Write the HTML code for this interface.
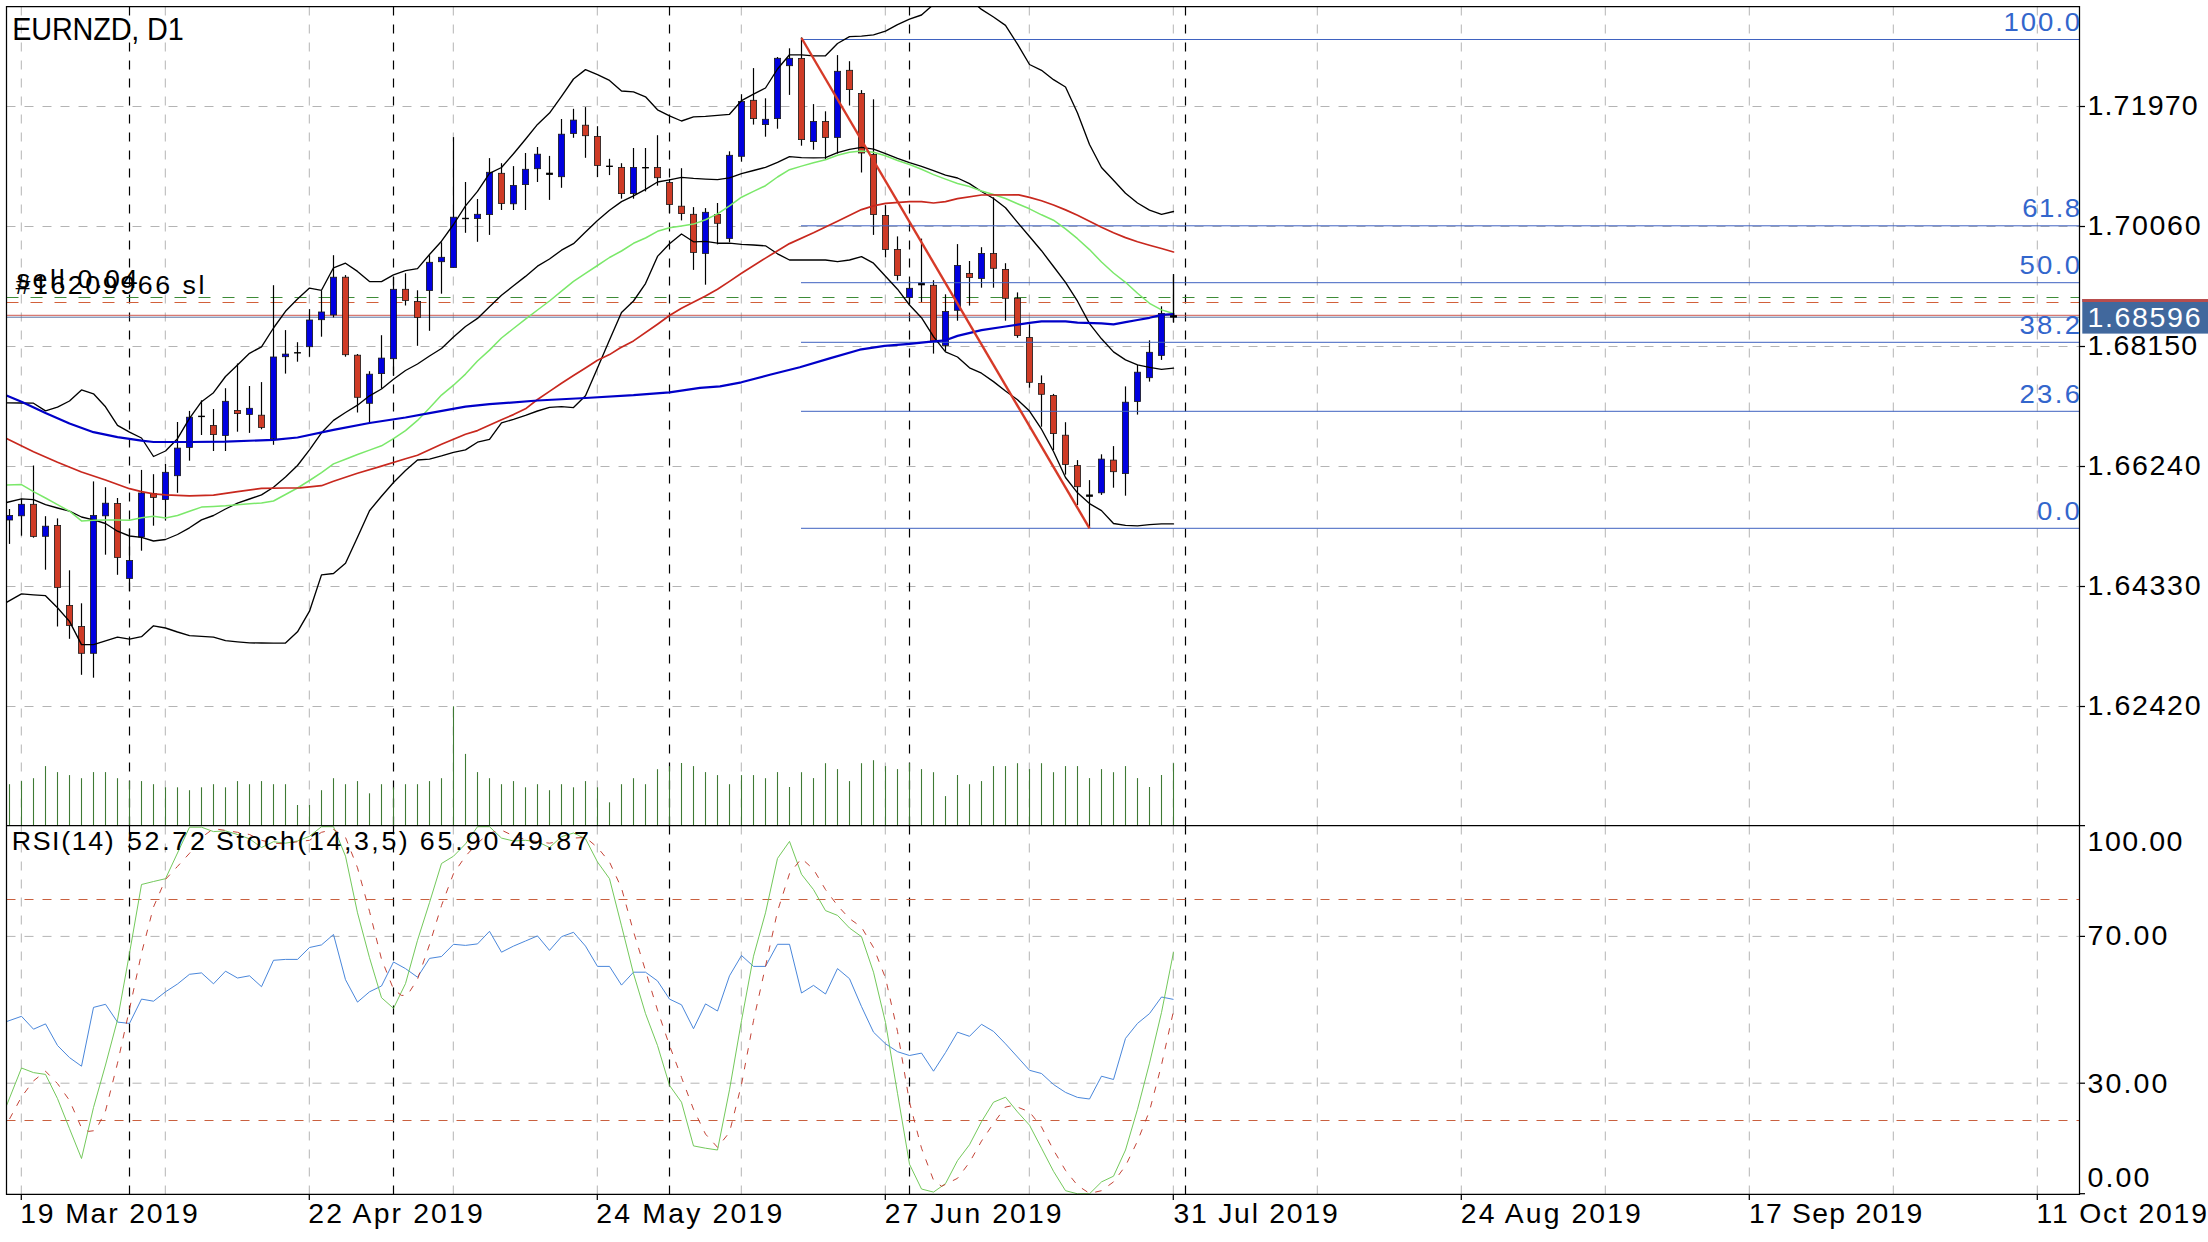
<!DOCTYPE html>
<html lang="en"><head><meta charset="utf-8"><title>EURNZD, D1</title><style>html,body{margin:0;padding:0;background:#fff;overflow:hidden}svg{display:block}</style></head><body>
<svg width="2208" height="1242" viewBox="0 0 2208 1242" font-family="'Liberation Sans', Arial, Helvetica, sans-serif">
<defs><clipPath id="cm"><rect x="6.5" y="6.5" width="2073" height="819"/></clipPath><clipPath id="ci"><rect x="6.5" y="825.5" width="2073" height="368.7"/></clipPath></defs>
<rect width="2208" height="1242" fill="#fff"/>
<g stroke="#b4b4b4" stroke-width="1" stroke-dasharray="9 9" fill="none">
<path d="M6.5 106.5H2079.5"/>
<path d="M6.5 226.5H2079.5"/>
<path d="M6.5 346.5H2079.5"/>
<path d="M6.5 466.5H2079.5"/>
<path d="M6.5 586.5H2079.5"/>
<path d="M6.5 706.5H2079.5"/>
<path d="M6.5 936.4H2079.5"/>
<path d="M6.5 1083.2H2079.5"/>
<path d="M21.3 6.5V825.5"/><path d="M21.3 825.5V1194.3"/>
<path d="M165.3 6.5V825.5"/><path d="M165.3 825.5V1194.3"/>
<path d="M309.3 6.5V825.5"/><path d="M309.3 825.5V1194.3"/>
<path d="M453.3 6.5V825.5"/><path d="M453.3 825.5V1194.3"/>
<path d="M597.3 6.5V825.5"/><path d="M597.3 825.5V1194.3"/>
<path d="M741.3 6.5V825.5"/><path d="M741.3 825.5V1194.3"/>
<path d="M885.3 6.5V825.5"/><path d="M885.3 825.5V1194.3"/>
<path d="M1029.3 6.5V825.5"/><path d="M1029.3 825.5V1194.3"/>
<path d="M1173.3 6.5V825.5"/><path d="M1173.3 825.5V1194.3"/>
<path d="M1317.3 6.5V825.5"/><path d="M1317.3 825.5V1194.3"/>
<path d="M1461.3 6.5V825.5"/><path d="M1461.3 825.5V1194.3"/>
<path d="M1605.3 6.5V825.5"/><path d="M1605.3 825.5V1194.3"/>
<path d="M1749.3 6.5V825.5"/><path d="M1749.3 825.5V1194.3"/>
<path d="M1893.3 6.5V825.5"/><path d="M1893.3 825.5V1194.3"/>
<path d="M2037.3 6.5V825.5"/><path d="M2037.3 825.5V1194.3"/>
</g>
<g stroke="#000" stroke-width="1.2" stroke-dasharray="9 9" fill="none">
<path d="M129.5 6.5V825.5"/><path d="M129.5 825.5V1194.3"/>
<path d="M393.5 6.5V825.5"/><path d="M393.5 825.5V1194.3"/>
<path d="M669.5 6.5V825.5"/><path d="M669.5 825.5V1194.3"/>
<path d="M909.5 6.5V825.5"/><path d="M909.5 825.5V1194.3"/>
<path d="M1185.5 6.5V825.5"/><path d="M1185.5 825.5V1194.3"/>
</g>
<g stroke="#3f7a35" stroke-width="1.1" fill="none">
<path d="M9.5 784.2V825.5"/>
<path d="M21.5 781.1V825.5"/>
<path d="M33.5 778.2V825.5"/>
<path d="M45.5 766.1V825.5"/>
<path d="M57.5 772.1V825.5"/>
<path d="M69.5 775.1V825.5"/>
<path d="M81.5 778.2V825.5"/>
<path d="M93.5 772.1V825.5"/>
<path d="M105.5 772.1V825.5"/>
<path d="M117.5 778.2V825.5"/>
<path d="M129.5 781.1V825.5"/>
<path d="M141.5 781.1V825.5"/>
<path d="M153.5 784.2V825.5"/>
<path d="M165.5 787.3V825.5"/>
<path d="M177.5 787.3V825.5"/>
<path d="M189.5 790.2V825.5"/>
<path d="M201.5 787.3V825.5"/>
<path d="M213.5 784.2V825.5"/>
<path d="M225.5 787.3V825.5"/>
<path d="M237.5 781.1V825.5"/>
<path d="M249.5 784.2V825.5"/>
<path d="M261.5 781.1V825.5"/>
<path d="M273.5 784.2V825.5"/>
<path d="M285.5 784.2V825.5"/>
<path d="M297.5 805.0V825.5"/>
<path d="M309.5 805.0V825.5"/>
<path d="M321.5 790.2V825.5"/>
<path d="M333.5 778.2V825.5"/>
<path d="M345.5 784.2V825.5"/>
<path d="M357.5 781.1V825.5"/>
<path d="M369.5 793.3V825.5"/>
<path d="M381.5 784.2V825.5"/>
<path d="M393.5 787.3V825.5"/>
<path d="M405.5 784.2V825.5"/>
<path d="M417.5 784.2V825.5"/>
<path d="M429.5 781.1V825.5"/>
<path d="M441.5 778.2V825.5"/>
<path d="M453.5 706.3V825.5"/>
<path d="M465.5 753.9V825.5"/>
<path d="M477.5 772.1V825.5"/>
<path d="M489.5 778.2V825.5"/>
<path d="M501.5 784.2V825.5"/>
<path d="M513.5 781.1V825.5"/>
<path d="M525.5 787.3V825.5"/>
<path d="M537.5 784.2V825.5"/>
<path d="M549.5 790.2V825.5"/>
<path d="M561.5 784.2V825.5"/>
<path d="M573.5 787.3V825.5"/>
<path d="M585.5 781.1V825.5"/>
<path d="M597.5 787.3V825.5"/>
<path d="M609.5 802.3V825.5"/>
<path d="M621.5 784.2V825.5"/>
<path d="M633.5 778.2V825.5"/>
<path d="M645.5 784.2V825.5"/>
<path d="M657.5 769.2V825.5"/>
<path d="M669.5 766.1V825.5"/>
<path d="M681.5 763.0V825.5"/>
<path d="M693.5 766.1V825.5"/>
<path d="M705.5 772.1V825.5"/>
<path d="M717.5 775.1V825.5"/>
<path d="M729.5 784.2V825.5"/>
<path d="M741.5 775.1V825.5"/>
<path d="M753.5 775.1V825.5"/>
<path d="M765.5 778.2V825.5"/>
<path d="M777.5 772.1V825.5"/>
<path d="M789.5 787.0V825.5"/>
<path d="M801.5 772.2V825.5"/>
<path d="M813.5 778.1V825.5"/>
<path d="M825.5 763.2V825.5"/>
<path d="M837.5 769.1V825.5"/>
<path d="M849.5 781.1V825.5"/>
<path d="M861.5 763.2V825.5"/>
<path d="M873.5 760.2V825.5"/>
<path d="M885.5 766.1V825.5"/>
<path d="M897.5 769.1V825.5"/>
<path d="M909.5 763.2V825.5"/>
<path d="M921.5 769.1V825.5"/>
<path d="M933.5 772.2V825.5"/>
<path d="M945.5 796.1V825.5"/>
<path d="M957.5 775.0V825.5"/>
<path d="M969.5 784.2V825.5"/>
<path d="M981.5 781.1V825.5"/>
<path d="M993.5 766.1V825.5"/>
<path d="M1005.5 766.1V825.5"/>
<path d="M1017.5 763.2V825.5"/>
<path d="M1029.5 769.1V825.5"/>
<path d="M1041.5 763.2V825.5"/>
<path d="M1053.5 772.2V825.5"/>
<path d="M1065.5 766.1V825.5"/>
<path d="M1077.5 766.1V825.5"/>
<path d="M1089.5 778.1V825.5"/>
<path d="M1101.5 769.1V825.5"/>
<path d="M1113.5 772.2V825.5"/>
<path d="M1125.5 766.1V825.5"/>
<path d="M1137.5 778.1V825.5"/>
<path d="M1149.5 787.0V825.5"/>
<path d="M1161.5 775.0V825.5"/>
<path d="M1173.5 763.2V825.5"/>
</g>
<path d="M6.5 297.5H2079.5" stroke="#3d8b37" stroke-width="1" stroke-dasharray="12 12" fill="none"/>
<path d="M6.5 302.5H2079.5" stroke="#d2603a" stroke-width="1" stroke-dasharray="12 12" fill="none"/>
<path d="M6.5 315.3H2079.5" stroke="#c8463c" stroke-width="0.9" fill="none"/>
<path d="M6.5 317.2H2079.5" stroke="#44639a" stroke-width="0.9" fill="none"/>
<g stroke="#000" stroke-width="1.2">
<path d="M9.5 509.0V543.9"/>
<path d="M21.5 499.0V535.7"/>
<path d="M33.5 465.5V537.7"/>
<path d="M45.5 516.2V569.7"/>
<path d="M57.5 518.4V626.5"/>
<path d="M69.5 570.3V638.8"/>
<path d="M81.5 603.3V674.8"/>
<path d="M93.5 481.4V677.7"/>
<path d="M105.5 487.2V554.7"/>
<path d="M117.5 498.0V574.8"/>
<path d="M129.5 528.7V591.0"/>
<path d="M141.5 469.9V550.7"/>
<path d="M153.5 474.2V525.7"/>
<path d="M165.5 464.0V520.6"/>
<path d="M177.5 422.0V492.8"/>
<path d="M189.5 410.9V460.7"/>
<path d="M201.5 400.3V435.0"/>
<path d="M213.5 409.0V451.0"/>
<path d="M225.5 388.2V451.0"/>
<path d="M237.5 363.5V431.7"/>
<path d="M249.5 386.0V432.9"/>
<path d="M261.5 382.1V429.3"/>
<path d="M273.5 285.2V444.8"/>
<path d="M285.5 330.1V373.6"/>
<path d="M297.5 342.2V361.7"/>
<path d="M309.5 309.1V356.8"/>
<path d="M321.5 291.0V336.7"/>
<path d="M333.5 255.2V317.4"/>
<path d="M345.5 275.1V356.7"/>
<path d="M357.5 354.0V412.5"/>
<path d="M369.5 371.2V422.9"/>
<path d="M381.5 335.2V388.7"/>
<path d="M393.5 277.2V375.8"/>
<path d="M405.5 273.3V305.5"/>
<path d="M417.5 290.3V345.8"/>
<path d="M429.5 255.2V330.8"/>
<path d="M441.5 242.3V293.7"/>
<path d="M453.5 137.1V267.5"/>
<path d="M465.5 182.0V232.8"/>
<path d="M477.5 199.0V241.8"/>
<path d="M489.5 158.1V234.9"/>
<path d="M501.5 163.2V210.0"/>
<path d="M513.5 166.1V210.0"/>
<path d="M525.5 153.0V210.0"/>
<path d="M537.5 147.0V182.0"/>
<path d="M549.5 155.9V199.9"/>
<path d="M561.5 119.0V187.8"/>
<path d="M573.5 108.8V137.8"/>
<path d="M585.5 107.1V157.8"/>
<path d="M597.5 126.2V177.0"/>
<path d="M609.5 158.8V175.1"/>
<path d="M621.5 163.2V198.7"/>
<path d="M633.5 148.0V198.7"/>
<path d="M645.5 148.0V191.4"/>
<path d="M657.5 135.2V185.7"/>
<path d="M669.5 179.0V213.2"/>
<path d="M681.5 168.2V220.4"/>
<path d="M693.5 207.1V269.9"/>
<path d="M705.5 208.1V284.7"/>
<path d="M717.5 203.0V244.4"/>
<path d="M729.5 151.3V242.2"/>
<path d="M741.5 94.2V161.7"/>
<path d="M753.5 68.1V124.6"/>
<path d="M765.5 98.3V136.7"/>
<path d="M777.5 57.0V128.7"/>
<path d="M789.5 48.3V94.9"/>
<path d="M801.5 37.4V145.7"/>
<path d="M813.5 104.1V149.7"/>
<path d="M825.5 111.3V159.4"/>
<path d="M837.5 55.1V153.6"/>
<path d="M849.5 61.2V105.5"/>
<path d="M861.5 90.1V172.5"/>
<path d="M873.5 99.3V234.9"/>
<path d="M885.5 205.2V257.4"/>
<path d="M897.5 236.4V280.5"/>
<path d="M909.5 281.0V304.7"/>
<path d="M921.5 238.6V302.0"/>
<path d="M933.5 280.2V353.6"/>
<path d="M945.5 294.3V351.2"/>
<path d="M957.5 244.1V320.7"/>
<path d="M969.5 261.0V305.6"/>
<path d="M981.5 247.2V287.7"/>
<path d="M993.5 197.3V287.7"/>
<path d="M1005.5 263.2V320.7"/>
<path d="M1017.5 292.4V337.8"/>
<path d="M1029.5 324.3V387.7"/>
<path d="M1041.5 375.4V426.7"/>
<path d="M1053.5 393.9V450.0"/>
<path d="M1065.5 422.2V474.6"/>
<path d="M1077.5 460.1V505.1"/>
<path d="M1089.5 480.1V527.5"/>
<path d="M1101.5 454.3V494.9"/>
<path d="M1113.5 446.1V487.7"/>
<path d="M1125.5 386.4V495.7"/>
<path d="M1137.5 364.9V414.6"/>
<path d="M1149.5 340.3V381.6"/>
<path d="M1161.5 306.3V359.9"/>
<path d="M1173.5 274.2V322.5"/>
</g>
<g stroke="#1a1a1a" stroke-width="0.8">
<rect x="6.4" y="515.5" width="6.2" height="4.5" fill="#0000e0"/>
<rect x="18.4" y="504.3" width="6.2" height="11.5" fill="#0000e0"/>
<rect x="30.4" y="504.3" width="6.2" height="32.1" fill="#cf3b26"/>
<rect x="42.4" y="526.2" width="6.2" height="10.1" fill="#0000e0"/>
<rect x="54.4" y="525.4" width="6.2" height="62.0" fill="#cf3b26"/>
<rect x="66.4" y="605.5" width="6.2" height="19.9" fill="#cf3b26"/>
<rect x="78.4" y="626.5" width="6.2" height="26.8" fill="#cf3b26"/>
<rect x="90.4" y="515.5" width="6.2" height="137.8" fill="#0000e0"/>
<rect x="102.4" y="503.2" width="6.2" height="12.6" fill="#0000e0"/>
<rect x="114.4" y="503.5" width="6.2" height="53.9" fill="#cf3b26"/>
<rect x="126.4" y="560.6" width="6.2" height="17.8" fill="#0000e0"/>
<rect x="138.4" y="493.0" width="6.2" height="44.0" fill="#0000e0"/>
<rect x="150.4" y="493.5" width="6.2" height="3.9" fill="#cf3b26"/>
<rect x="162.4" y="472.3" width="6.2" height="27.3" fill="#0000e0"/>
<rect x="174.4" y="448.1" width="6.2" height="27.6" fill="#0000e0"/>
<rect x="186.4" y="417.2" width="6.2" height="30.2" fill="#0000e0"/>
<rect x="198.1" y="415.7" width="6.8" height="1.4" fill="#000" stroke="none"/>
<rect x="210.4" y="425.4" width="6.2" height="9.2" fill="#cf3b26"/>
<rect x="222.4" y="401.3" width="6.2" height="34.2" fill="#0000e0"/>
<rect x="234.4" y="410.4" width="6.2" height="3.2" fill="#cf3b26"/>
<rect x="246.4" y="408.3" width="6.2" height="6.2" fill="#0000e0"/>
<rect x="258.4" y="415.2" width="6.2" height="12.2" fill="#cf3b26"/>
<rect x="270.4" y="357.0" width="6.2" height="81.7" fill="#0000e0"/>
<rect x="282.4" y="354.1" width="6.2" height="2.6" fill="#0000e0"/>
<rect x="294.1" y="352.1" width="6.8" height="1.4" fill="#000" stroke="none"/>
<rect x="306.4" y="320.0" width="6.2" height="26.7" fill="#0000e0"/>
<rect x="318.4" y="312.0" width="6.2" height="7.7" fill="#0000e0"/>
<rect x="330.4" y="277.2" width="6.2" height="37.7" fill="#0000e0"/>
<rect x="342.4" y="277.2" width="6.2" height="77.5" fill="#cf3b26"/>
<rect x="354.4" y="355.2" width="6.2" height="42.1" fill="#cf3b26"/>
<rect x="366.4" y="374.2" width="6.2" height="29.1" fill="#0000e0"/>
<rect x="378.4" y="358.1" width="6.2" height="15.5" fill="#0000e0"/>
<rect x="390.4" y="289.3" width="6.2" height="69.4" fill="#0000e0"/>
<rect x="402.4" y="289.3" width="6.2" height="11.1" fill="#cf3b26"/>
<rect x="414.4" y="301.4" width="6.2" height="16.0" fill="#cf3b26"/>
<rect x="426.4" y="262.3" width="6.2" height="28.3" fill="#0000e0"/>
<rect x="438.4" y="257.3" width="6.2" height="4.4" fill="#0000e0"/>
<rect x="450.4" y="217.2" width="6.2" height="50.3" fill="#0000e0"/>
<rect x="462.1" y="217.8" width="6.8" height="1.4" fill="#000" stroke="none"/>
<rect x="474.4" y="214.3" width="6.2" height="4.3" fill="#0000e0"/>
<rect x="486.4" y="172.3" width="6.2" height="42.3" fill="#0000e0"/>
<rect x="498.4" y="173.3" width="6.2" height="30.2" fill="#cf3b26"/>
<rect x="510.4" y="185.4" width="6.2" height="18.4" fill="#0000e0"/>
<rect x="522.4" y="169.3" width="6.2" height="15.3" fill="#0000e0"/>
<rect x="534.4" y="154.2" width="6.2" height="14.5" fill="#0000e0"/>
<rect x="546.1" y="172.7" width="6.8" height="2.2" fill="#000" stroke="none"/>
<rect x="558.4" y="134.2" width="6.2" height="42.5" fill="#0000e0"/>
<rect x="570.4" y="120.1" width="6.2" height="13.4" fill="#0000e0"/>
<rect x="582.4" y="125.2" width="6.2" height="10.5" fill="#cf3b26"/>
<rect x="594.4" y="136.4" width="6.2" height="29.0" fill="#cf3b26"/>
<rect x="606.1" y="165.6" width="6.8" height="1.4" fill="#000" stroke="none"/>
<rect x="618.4" y="167.5" width="6.2" height="26.1" fill="#cf3b26"/>
<rect x="630.4" y="167.5" width="6.2" height="26.1" fill="#0000e0"/>
<rect x="642.1" y="167.0" width="6.8" height="1.4" fill="#000" stroke="none"/>
<rect x="654.4" y="167.5" width="6.2" height="10.2" fill="#cf3b26"/>
<rect x="666.4" y="182.5" width="6.2" height="22.0" fill="#cf3b26"/>
<rect x="678.4" y="206.2" width="6.2" height="7.4" fill="#cf3b26"/>
<rect x="690.4" y="214.3" width="6.2" height="38.1" fill="#cf3b26"/>
<rect x="702.4" y="212.3" width="6.2" height="41.1" fill="#0000e0"/>
<rect x="714.4" y="214.5" width="6.2" height="8.8" fill="#cf3b26"/>
<rect x="726.4" y="155.3" width="6.2" height="83.1" fill="#0000e0"/>
<rect x="738.4" y="101.5" width="6.2" height="54.8" fill="#0000e0"/>
<rect x="750.4" y="100.3" width="6.2" height="18.3" fill="#cf3b26"/>
<rect x="762.4" y="119.3" width="6.2" height="5.3" fill="#0000e0"/>
<rect x="774.4" y="58.3" width="6.2" height="60.3" fill="#0000e0"/>
<rect x="786.4" y="58.3" width="6.2" height="7.4" fill="#0000e0"/>
<rect x="798.4" y="58.4" width="6.2" height="81.2" fill="#cf3b26"/>
<rect x="810.4" y="121.4" width="6.2" height="20.2" fill="#0000e0"/>
<rect x="822.4" y="121.4" width="6.2" height="16.0" fill="#cf3b26"/>
<rect x="834.4" y="71.3" width="6.2" height="66.1" fill="#0000e0"/>
<rect x="846.4" y="70.3" width="6.2" height="19.3" fill="#cf3b26"/>
<rect x="858.4" y="93.5" width="6.2" height="59.5" fill="#cf3b26"/>
<rect x="870.4" y="154.4" width="6.2" height="60.2" fill="#cf3b26"/>
<rect x="882.4" y="215.4" width="6.2" height="34.0" fill="#cf3b26"/>
<rect x="894.4" y="249.4" width="6.2" height="26.1" fill="#cf3b26"/>
<rect x="906.4" y="288.3" width="6.2" height="9.3" fill="#0000e0"/>
<rect x="918.1" y="282.8" width="6.8" height="2.5" fill="#000" stroke="none"/>
<rect x="930.4" y="285.3" width="6.2" height="55.7" fill="#cf3b26"/>
<rect x="942.4" y="311.5" width="6.2" height="33.9" fill="#0000e0"/>
<rect x="954.4" y="265.4" width="6.2" height="44.9" fill="#0000e0"/>
<rect x="966.4" y="273.4" width="6.2" height="4.1" fill="#cf3b26"/>
<rect x="978.4" y="253.5" width="6.2" height="24.9" fill="#0000e0"/>
<rect x="990.4" y="253.5" width="6.2" height="14.8" fill="#cf3b26"/>
<rect x="1002.4" y="269.4" width="6.2" height="28.9" fill="#cf3b26"/>
<rect x="1014.4" y="298.3" width="6.2" height="37.2" fill="#cf3b26"/>
<rect x="1026.4" y="337.4" width="6.2" height="44.9" fill="#cf3b26"/>
<rect x="1038.4" y="383.5" width="6.2" height="10.8" fill="#cf3b26"/>
<rect x="1050.4" y="395.4" width="6.2" height="38.2" fill="#cf3b26"/>
<rect x="1062.4" y="435.2" width="6.2" height="29.3" fill="#cf3b26"/>
<rect x="1074.4" y="465.5" width="6.2" height="21.2" fill="#cf3b26"/>
<rect x="1086.1" y="494.5" width="6.8" height="2.3" fill="#000" stroke="none"/>
<rect x="1098.4" y="459.1" width="6.2" height="33.7" fill="#0000e0"/>
<rect x="1110.4" y="460.1" width="6.2" height="11.6" fill="#cf3b26"/>
<rect x="1122.4" y="402.2" width="6.2" height="71.4" fill="#0000e0"/>
<rect x="1134.4" y="372.2" width="6.2" height="29.3" fill="#0000e0"/>
<rect x="1146.4" y="352.3" width="6.2" height="25.4" fill="#0000e0"/>
<rect x="1158.4" y="313.4" width="6.2" height="42.0" fill="#0000e0"/>
<rect x="1170.1" y="315.4" width="6.8" height="2.0" fill="#000" stroke="none"/>
</g>
<g stroke="#3f62c0" stroke-width="1" fill="none">
<path d="M801 39.5H2079.5"/>
<path d="M801 225.8H2079.5"/>
<path d="M801 282.7H2079.5"/>
<path d="M801 342.3H2079.5"/>
<path d="M801 411.3H2079.5"/>
<path d="M801 528.3H2079.5"/>
</g>
<g clip-path="url(#cm)" fill="none" stroke-linejoin="round" stroke-linecap="round">
<polyline points="6.5,402.9 21.5,403.0 33.5,403.2 45.5,410.9 57.5,407.2 69.5,401.0 81.5,389.9 93.5,393.8 105.5,406.8 117.5,425.4 129.5,432.2 141.5,438.0 153.5,456.5 165.5,451.0 177.5,438.7 189.5,418.4 201.5,401.7 213.5,392.7 225.5,376.5 237.5,364.9 249.5,353.3 261.5,346.8 273.5,328.0 285.5,311.3 297.5,299.0 309.5,288.1 321.5,290.3 333.5,267.8 345.5,263.2 357.5,271.4 369.5,281.6 381.5,281.6 393.5,274.8 405.5,270.7 417.5,268.6 429.5,254.5 441.5,241.2 453.5,224.5 465.5,205.9 477.5,191.4 489.5,173.3 501.5,167.5 513.5,153.8 525.5,139.2 537.5,124.4 549.5,113.1 561.5,96.4 573.5,79.0 585.5,69.6 597.5,74.6 609.5,80.4 621.5,91.0 633.5,91.9 645.5,96.8 657.5,109.8 669.5,115.9 681.5,121.0 693.5,116.8 705.5,116.4 717.5,115.4 729.5,114.3 741.5,100.7 753.5,94.2 765.5,88.0 777.5,69.0 789.5,54.8 801.5,54.8 813.5,55.8 825.5,55.8 837.5,43.5 849.5,36.7 861.5,36.2 873.5,34.8 885.5,31.2 897.5,24.6 909.5,19.2 921.5,15.0 933.5,4.4 945.5,-4.0 957.5,-7.0 969.5,-1.0 981.5,9.4 993.5,17.0 1005.5,25.4 1017.5,44.2 1029.5,64.5 1041.5,70.3 1053.5,79.7 1065.5,87.0 1077.5,113.0 1089.5,144.5 1101.5,167.5 1113.5,180.2 1125.5,193.3 1137.5,203.0 1149.5,210.1 1161.5,214.3 1173.5,211.5" stroke="#000" stroke-width="1.35"/>
<polyline points="6.5,502.5 21.5,498.8 33.5,499.6 45.5,504.6 57.5,508.0 69.5,511.2 81.5,517.0 93.5,519.9 105.5,523.5 117.5,531.2 129.5,536.0 141.5,537.3 153.5,541.0 165.5,539.5 177.5,534.5 189.5,527.8 201.5,519.9 213.5,515.5 225.5,509.0 237.5,503.2 249.5,499.0 261.5,494.9 273.5,487.2 285.5,477.1 297.5,465.5 309.5,449.8 321.5,432.8 333.5,420.4 345.5,412.5 357.5,405.2 369.5,395.8 381.5,389.0 393.5,379.2 405.5,370.5 417.5,364.0 429.5,356.0 441.5,348.5 453.5,337.0 465.5,326.5 477.5,318.4 489.5,306.8 501.5,295.2 513.5,285.8 525.5,276.4 537.5,266.2 549.5,259.0 561.5,250.2 573.5,243.7 585.5,232.0 597.5,220.4 609.5,210.3 621.5,201.6 633.5,195.8 645.5,189.3 657.5,182.0 669.5,179.9 681.5,177.4 693.5,178.4 705.5,179.1 717.5,179.6 729.5,177.8 741.5,173.6 753.5,170.5 765.5,167.4 777.5,162.4 789.5,156.6 801.5,157.7 813.5,157.9 825.5,157.7 837.5,152.6 849.5,149.3 861.5,147.3 873.5,149.2 885.5,153.7 897.5,158.4 909.5,162.7 921.5,166.4 933.5,170.7 945.5,175.2 957.5,178.0 969.5,183.6 981.5,191.5 993.5,198.5 1005.5,207.8 1017.5,222.4 1029.5,236.5 1041.5,250.7 1053.5,266.5 1065.5,282.3 1077.5,301.2 1089.5,323.6 1101.5,338.8 1113.5,351.9 1125.5,359.9 1137.5,364.9 1149.5,367.4 1161.5,369.3 1173.5,368.1" stroke="#000" stroke-width="1.35"/>
<polyline points="6.5,602.3 21.5,593.9 33.5,594.8 45.5,595.7 57.5,607.7 69.5,621.4 81.5,644.6 93.5,644.6 105.5,640.8 117.5,637.1 129.5,639.1 141.5,636.7 153.5,625.8 165.5,628.0 177.5,632.0 189.5,635.7 201.5,636.4 213.5,637.1 225.5,640.7 237.5,641.8 249.5,642.9 261.5,643.0 273.5,643.1 285.5,643.1 297.5,631.8 309.5,611.2 321.5,574.9 333.5,573.5 345.5,563.3 357.5,537.2 369.5,510.7 381.5,496.2 393.5,482.5 405.5,470.4 417.5,460.0 429.5,459.1 441.5,455.9 453.5,452.3 465.5,449.9 477.5,442.2 489.5,439.3 501.5,422.9 513.5,419.4 525.5,415.4 537.5,411.0 549.5,407.4 561.5,406.6 573.5,407.6 585.5,395.8 597.5,368.0 609.5,340.1 621.5,312.6 633.5,301.0 645.5,283.6 657.5,256.4 669.5,243.7 681.5,234.0 693.5,241.8 705.5,241.4 717.5,243.2 729.5,243.2 741.5,244.3 753.5,245.0 765.5,245.8 777.5,253.8 789.5,260.0 801.5,260.0 813.5,260.0 825.5,260.0 837.5,261.7 849.5,260.0 861.5,256.7 873.5,263.2 885.5,276.3 897.5,289.2 909.5,305.0 921.5,317.7 933.5,336.7 945.5,351.9 957.5,357.0 969.5,367.8 981.5,373.2 993.5,381.6 1005.5,391.0 1017.5,399.7 1029.5,411.1 1041.5,429.2 1053.5,451.5 1065.5,477.5 1077.5,492.8 1089.5,503.6 1101.5,510.6 1113.5,523.5 1125.5,525.4 1137.5,525.8 1149.5,524.6 1161.5,523.9 1173.5,523.9" stroke="#000" stroke-width="1.35"/>
<polyline points="6.5,485.1 21.5,484.6 33.5,491.6 45.5,498.0 57.5,504.6 69.5,511.2 81.5,520.9 93.5,520.3 105.5,520.1 117.5,519.9 129.5,520.3 141.5,517.7 153.5,516.2 165.5,518.0 177.5,515.5 189.5,511.2 201.5,507.1 213.5,506.4 225.5,505.8 237.5,504.8 249.5,503.8 261.5,502.9 273.5,501.0 285.5,494.5 297.5,488.0 309.5,480.5 321.5,472.6 333.5,463.9 345.5,459.2 357.5,454.5 369.5,450.1 381.5,445.8 393.5,438.6 405.5,430.6 417.5,420.4 429.5,408.1 441.5,395.1 453.5,385.2 465.5,374.1 477.5,361.0 489.5,350.1 501.5,338.0 513.5,328.5 525.5,319.1 537.5,310.0 549.5,301.0 561.5,291.2 573.5,281.4 585.5,273.4 597.5,265.5 609.5,257.5 621.5,251.0 633.5,243.3 645.5,238.0 657.5,231.3 669.5,227.7 681.5,225.9 693.5,224.1 705.5,219.7 717.5,213.9 729.5,205.9 741.5,197.2 753.5,191.4 765.5,185.7 777.5,177.0 789.5,169.7 801.5,166.1 813.5,162.8 825.5,159.8 837.5,155.2 849.5,152.3 861.5,151.0 873.5,152.3 885.5,155.7 897.5,160.5 909.5,164.5 921.5,169.3 933.5,174.6 945.5,179.1 957.5,183.5 969.5,186.6 981.5,191.0 993.5,194.5 1005.5,198.5 1017.5,203.8 1029.5,208.8 1041.5,214.8 1053.5,220.2 1065.5,228.9 1077.5,238.7 1089.5,249.6 1101.5,262.0 1113.5,273.0 1125.5,282.3 1137.5,293.2 1149.5,303.3 1161.5,309.9 1173.5,313.5" stroke="#7be86a" stroke-width="1.5"/>
<polyline points="6.5,438.4 33.5,451.7 57.5,462.3 81.5,472.0 105.5,480.0 129.5,488.7 141.5,491.6 153.5,493.8 165.5,494.9 189.5,495.9 213.5,495.2 237.5,491.6 261.5,488.4 285.5,488.0 300.0,487.8 321.5,485.7 333.5,481.3 357.5,473.3 381.5,466.1 405.5,458.8 417.5,455.2 441.5,444.3 465.5,434.2 477.5,430.6 501.5,419.7 513.5,414.6 525.5,408.8 537.5,399.5 549.5,391.4 561.5,383.2 573.5,375.5 585.5,368.0 597.5,360.3 609.5,354.6 620.0,348.0 633.5,340.9 657.5,324.2 669.5,315.5 681.5,308.3 705.5,295.9 717.5,289.3 729.5,281.4 741.5,273.3 765.5,258.1 789.5,243.6 813.5,232.8 837.5,221.2 861.5,209.6 873.5,205.9 885.5,203.3 909.5,201.6 921.5,201.6 933.5,203.0 945.5,201.6 957.5,198.7 981.5,195.0 1018.7,194.9 1029.5,197.4 1041.5,200.7 1053.5,205.0 1065.5,209.9 1077.5,215.3 1089.5,221.3 1101.5,227.3 1113.5,232.7 1125.5,237.6 1137.5,241.7 1149.5,245.2 1161.5,248.5 1173.5,252.0" stroke="#c8281e" stroke-width="1.7"/>
<polyline points="6.5,395.5 21.5,401.7 45.5,413.0 69.5,423.5 93.5,432.2 117.5,437.2 141.5,440.6 153.5,442.0 189.5,442.0 225.5,441.6 273.5,439.9 297.5,437.5 333.5,429.9 369.5,423.0 405.5,417.5 429.5,413.2 465.5,406.7 489.5,404.2 537.5,400.5 585.5,398.0 633.5,395.2 669.5,392.3 700.0,387.8 720.0,386.3 741.4,382.3 769.9,374.8 799.8,367.3 829.7,358.4 859.7,349.7 884.6,345.9 909.5,343.9 933.5,341.3 945.5,340.3 957.5,335.9 981.5,330.1 1005.5,326.5 1029.5,322.9 1041.5,321.4 1065.5,321.4 1077.5,322.6 1101.5,323.3 1113.5,324.3 1125.5,322.2 1137.5,320.0 1149.5,317.8 1161.5,314.9 1173.5,314.2" stroke="#0000c8" stroke-width="2.2"/>
<path d="M801.5 38L1089.5 528.3" stroke="#d63a28" stroke-width="2.4" stroke-linecap="butt"/>
</g>
<path d="M1173.5 274.2V322.5" stroke="#000" stroke-width="1.2"/><rect x="1170.1" y="315.4" width="6.8" height="2.0" fill="#000"/>
<g fill="none">
<path d="M6.5 899.5H2079.5" stroke="#c9603f" stroke-width="1.2" stroke-dasharray="9 9"/>
<path d="M6.5 1120.5H2079.5" stroke="#c9603f" stroke-width="1.2" stroke-dasharray="9 9"/>
</g>
<g clip-path="url(#ci)" fill="none" stroke-linejoin="round">
<polyline points="6.5,1021.6 21.5,1016.3 33.5,1029.2 45.5,1023.9 57.5,1045.5 69.5,1057.6 81.5,1066.2 93.5,1007.4 105.5,1004.3 117.5,1022.1 129.5,1023.4 141.5,999.1 153.5,1001.2 165.5,991.8 177.5,984.0 189.5,974.3 201.5,972.9 213.5,983.8 225.5,971.2 237.5,978.0 249.5,975.8 261.5,986.7 273.5,960.3 285.5,959.4 297.5,959.4 309.5,947.5 321.5,944.9 333.5,934.5 345.5,979.7 357.5,1002.1 369.5,991.8 381.5,986.0 393.5,962.0 405.5,968.6 417.5,977.2 429.5,958.4 441.5,956.5 453.5,944.3 465.5,945.4 477.5,943.9 489.5,931.3 501.5,952.2 513.5,946.1 525.5,941.0 537.5,935.9 549.5,950.4 561.5,936.7 573.5,932.3 585.5,946.1 597.5,966.4 609.5,966.4 621.5,985.1 633.5,972.2 645.5,972.2 657.5,980.9 669.5,999.1 681.5,1004.8 693.5,1028.7 705.5,1003.9 717.5,1011.0 729.5,975.8 741.5,955.5 753.5,966.4 765.5,966.4 777.5,944.3 789.5,944.3 801.5,993.0 813.5,985.4 825.5,994.0 837.5,968.6 849.5,978.7 861.5,1006.6 873.5,1032.2 885.5,1043.8 897.5,1051.7 909.5,1055.5 921.5,1053.1 933.5,1071.2 945.5,1052.6 957.5,1032.2 969.5,1036.3 981.5,1024.3 993.5,1031.4 1005.5,1043.8 1017.5,1057.0 1029.5,1070.3 1041.5,1073.5 1053.5,1084.5 1065.5,1092.4 1077.5,1097.4 1089.5,1099.0 1101.5,1076.2 1113.5,1079.5 1125.5,1038.4 1137.5,1023.4 1149.5,1013.6 1161.5,997.0 1173.5,999.4" stroke="#3f7fd8" stroke-width="0.95"/>
<polyline points="6.5,1105.7 21.5,1068.0 33.5,1072.6 45.5,1074.4 57.5,1098.6 69.5,1128.7 81.5,1158.5 93.5,1107.5 105.5,1065.0 117.5,1019.8 129.5,953.3 141.5,884.5 153.5,881.5 165.5,878.7 177.5,853.0 189.5,827.2 201.5,827.2 213.5,831.6 225.5,830.9 237.5,834.5 249.5,838.8 261.5,847.5 273.5,841.7 285.5,843.2 297.5,841.0 309.5,836.3 321.5,826.7 333.5,826.7 345.5,856.2 357.5,912.8 369.5,957.7 381.5,997.7 393.5,1008.3 405.5,983.6 417.5,940.3 429.5,902.6 441.5,863.5 453.5,856.2 465.5,843.9 477.5,826.7 489.5,826.7 501.5,838.1 513.5,841.0 525.5,840.3 537.5,841.7 549.5,847.5 561.5,836.7 573.5,833.0 585.5,838.8 597.5,862.0 609.5,878.7 621.5,925.8 633.5,973.6 645.5,1013.6 657.5,1045.5 669.5,1085.4 681.5,1102.2 693.5,1145.9 705.5,1148.2 717.5,1150.0 729.5,1089.8 741.5,1020.7 753.5,956.2 765.5,912.8 777.5,858.4 789.5,841.4 801.5,874.3 813.5,889.6 825.5,910.6 837.5,915.4 849.5,928.0 861.5,936.7 873.5,972.2 885.5,1022.5 897.5,1093.3 909.5,1164.2 921.5,1189.0 933.5,1192.1 945.5,1183.6 957.5,1160.6 969.5,1144.7 981.5,1121.7 993.5,1102.2 1005.5,1097.2 1017.5,1111.9 1029.5,1125.2 1041.5,1148.2 1053.5,1171.3 1065.5,1190.7 1077.5,1193.8 1089.5,1193.8 1101.5,1181.9 1113.5,1176.2 1125.5,1150.0 1137.5,1109.3 1149.5,1063.2 1161.5,1012.5 1173.5,952.2" stroke="#6cc552" stroke-width="0.95"/>
<polyline points="9.5,1119.0 21.5,1096.9 33.5,1080.9 45.5,1071.2 57.5,1083.6 69.5,1100.4 81.5,1127.9 88.5,1131.4 95.6,1130.5 105.5,1111.0 117.5,1063.2 129.5,1009.2 141.5,953.3 153.5,907.0 165.5,879.4 177.5,866.4 189.5,853.3 201.5,837.4 213.5,828.7 225.5,830.4 237.5,832.3 249.5,834.5 261.5,840.3 273.5,843.2 285.5,843.9 297.5,841.7 309.5,840.3 321.5,832.3 333.5,829.4 345.5,837.4 357.5,867.8 369.5,911.3 381.5,959.1 393.5,989.2 401.4,995.4 407.2,995.4 417.5,979.4 429.5,944.6 441.5,905.5 453.5,873.6 465.5,856.2 477.5,843.2 489.5,833.0 501.5,830.1 513.5,835.9 525.5,839.6 537.5,841.7 549.5,843.2 561.5,841.0 573.5,838.1 585.5,837.4 597.5,847.5 609.5,862.0 621.5,888.1 633.5,931.6 645.5,970.7 657.5,1010.1 669.5,1045.5 681.5,1077.4 693.5,1109.3 705.5,1134.1 717.5,1147.3 729.5,1132.3 741.5,1084.5 753.5,1020.7 765.5,966.4 777.5,911.3 789.5,873.6 801.5,858.4 813.5,869.3 825.5,889.6 837.5,905.5 849.5,918.6 861.5,927.2 873.5,947.5 885.5,978.0 897.5,1031.4 909.5,1102.2 921.5,1148.2 933.5,1180.1 941.6,1186.3 957.5,1178.3 969.5,1162.4 981.5,1141.1 993.5,1123.4 1005.5,1107.1 1013.3,1105.4 1029.5,1111.9 1041.5,1127.0 1053.5,1150.0 1065.5,1170.4 1077.5,1185.4 1089.5,1193.4 1101.5,1190.7 1113.5,1181.9 1125.5,1165.9 1137.5,1141.1 1149.5,1111.0 1161.5,1065.0 1173.5,1011.0" stroke="#c0392b" stroke-width="0.95" stroke-dasharray="6.5 8.5"/>
</g>
<g stroke="#000" stroke-width="1.25" fill="none">
<path d="M6.5 6.5H2079.5V1194.3H6.5Z"/>
<path d="M6.5 825.5H2085.0"/>
<path d="M2079.5 1193.7H2085.0"/>
<path d="M2079.5 106.5H2085.0"/>
<path d="M2079.5 226.5H2085.0"/>
<path d="M2079.5 346.5H2085.0"/>
<path d="M2079.5 466.5H2085.0"/>
<path d="M2079.5 586.5H2085.0"/>
<path d="M2079.5 706.5H2085.0"/>
<path d="M2079.5 936.4H2085.0"/>
<path d="M2079.5 1083.2H2085.0"/>
<path d="M21.3 1194.3V1199.8999999999999"/>
<path d="M309.3 1194.3V1199.8999999999999"/>
<path d="M597.3 1194.3V1199.8999999999999"/>
<path d="M885.3 1194.3V1199.8999999999999"/>
<path d="M1173.3 1194.3V1199.8999999999999"/>
<path d="M1461.3 1194.3V1199.8999999999999"/>
<path d="M1749.3 1194.3V1199.8999999999999"/>
<path d="M2037.3 1194.3V1199.8999999999999"/>
</g>
<rect x="2082.3" y="299" width="126" height="34.6" fill="#41689d"/>
<rect x="2082.3" y="299" width="126" height="3" fill="#b84d4d"/>
<text transform="translate(12.2,40.2) scale(0.93,1)" font-size="31" fill="#000" textLength="184.4" lengthAdjust="spacing" xml:space="preserve">EURNZD, D1</text>
<text transform="translate(2087.5,115.2) scale(1.04,1)" font-size="27.5" fill="#000" textLength="106.0" lengthAdjust="spacing" xml:space="preserve">1.71970</text>
<text transform="translate(2087.5,235.2) scale(1.04,1)" font-size="27.5" fill="#000" textLength="108.7" lengthAdjust="spacing" xml:space="preserve">1.70060</text>
<text transform="translate(2087.5,355.2) scale(1.04,1)" font-size="27.5" fill="#000" textLength="105.5" lengthAdjust="spacing" xml:space="preserve">1.68150</text>
<text transform="translate(2087.5,475.2) scale(1.04,1)" font-size="27.5" fill="#000" textLength="108.7" lengthAdjust="spacing" xml:space="preserve">1.66240</text>
<text transform="translate(2087.5,595.2) scale(1.04,1)" font-size="27.5" fill="#000" textLength="108.7" lengthAdjust="spacing" xml:space="preserve">1.64330</text>
<text transform="translate(2087.5,715.2) scale(1.04,1)" font-size="27.5" fill="#000" textLength="108.7" lengthAdjust="spacing" xml:space="preserve">1.62420</text>
<text transform="translate(2087.5,327.3) scale(1.04,1)" font-size="27.5" fill="#fff" textLength="108.7" lengthAdjust="spacing" xml:space="preserve">1.68596</text>
<text transform="translate(2003.4,30.9) scale(1.04,1)" font-size="26.5" fill="#3366cc" textLength="73.7" lengthAdjust="spacing" xml:space="preserve">100.0</text>
<text transform="translate(2022.3,217.2) scale(1.04,1)" font-size="26.5" fill="#3366cc" textLength="55.5" lengthAdjust="spacing" xml:space="preserve">61.8</text>
<text transform="translate(2019.5,274.1) scale(1.04,1)" font-size="26.5" fill="#3366cc" textLength="58.2" lengthAdjust="spacing" xml:space="preserve">50.0</text>
<text transform="translate(2019.5,333.7) scale(1.04,1)" font-size="26.5" fill="#3366cc" textLength="58.2" lengthAdjust="spacing" xml:space="preserve">38.2</text>
<text transform="translate(2019.5,402.7) scale(1.04,1)" font-size="26.5" fill="#3366cc" textLength="58.2" lengthAdjust="spacing" xml:space="preserve">23.6</text>
<text transform="translate(2037.0,519.7) scale(1.04,1)" font-size="26.5" fill="#3366cc" textLength="41.3" lengthAdjust="spacing" xml:space="preserve">0.0</text>
<text transform="translate(11.7,850.4) scale(1.03,1)" font-size="26.0" fill="#000" textLength="98.9" lengthAdjust="spacing" xml:space="preserve">RSI(14)</text>
<text transform="translate(127.0,850.4) scale(1.03,1)" font-size="26.0" fill="#000" textLength="75.6" lengthAdjust="spacing" xml:space="preserve">52.72</text>
<text transform="translate(216.1,850.4) scale(1.03,1)" font-size="26.0" fill="#000" textLength="186.1" lengthAdjust="spacing" xml:space="preserve">Stoch(14,3,5)</text>
<text transform="translate(419.7,850.4) scale(1.03,1)" font-size="26.0" fill="#000" textLength="76.4" lengthAdjust="spacing" xml:space="preserve">65.90</text>
<text transform="translate(510.3,850.4) scale(1.03,1)" font-size="26.0" fill="#000" textLength="76.4" lengthAdjust="spacing" xml:space="preserve">49.87</text>
<text transform="translate(2087.5,850.8) scale(1.04,1)" font-size="27.5" fill="#000" textLength="91.3" lengthAdjust="spacing" xml:space="preserve">100.00</text>
<text transform="translate(2087.5,945.2) scale(1.04,1)" font-size="27.5" fill="#000" textLength="76.9" lengthAdjust="spacing" xml:space="preserve">70.00</text>
<text transform="translate(2087.5,1092.6) scale(1.04,1)" font-size="27.5" fill="#000" textLength="76.9" lengthAdjust="spacing" xml:space="preserve">30.00</text>
<text transform="translate(2087.5,1186.8) scale(1.04,1)" font-size="27.5" fill="#000" textLength="59.6" lengthAdjust="spacing" xml:space="preserve">0.00</text>
<text transform="translate(20.2,1223.3) scale(1.03,1)" font-size="27.5" fill="#000" textLength="172.5" lengthAdjust="spacing" xml:space="preserve">19 Mar 2019</text>
<text transform="translate(308.3,1223.3) scale(1.03,1)" font-size="27.5" fill="#000" textLength="169.3" lengthAdjust="spacing" xml:space="preserve">22 Apr 2019</text>
<text transform="translate(596.3,1223.3) scale(1.03,1)" font-size="27.5" fill="#000" textLength="180.6" lengthAdjust="spacing" xml:space="preserve">24 May 2019</text>
<text transform="translate(884.7,1223.3) scale(1.03,1)" font-size="27.5" fill="#000" textLength="171.7" lengthAdjust="spacing" xml:space="preserve">27 Jun 2019</text>
<text transform="translate(1173.5,1223.3) scale(1.03,1)" font-size="27.5" fill="#000" textLength="159.4" lengthAdjust="spacing" xml:space="preserve">31 Jul 2019</text>
<text transform="translate(1460.8,1223.3) scale(1.03,1)" font-size="27.5" fill="#000" textLength="174.7" lengthAdjust="spacing" xml:space="preserve">24 Aug 2019</text>
<text transform="translate(1748.9,1223.3) scale(1.03,1)" font-size="27.5" fill="#000" textLength="168.3" lengthAdjust="spacing" xml:space="preserve">17 Sep 2019</text>
<text transform="translate(2036.5,1223.3) scale(1.03,1)" font-size="27.5" fill="#000" textLength="165.5" lengthAdjust="spacing" xml:space="preserve">11 Oct 2019</text>
<text transform="translate(16.5,288.2) scale(1.03,1)" font-size="26" fill="#000" textLength="117.5" lengthAdjust="spacing" xml:space="preserve">sell 0.04</text>
<text transform="translate(15.5,294.1) scale(1.03,1)" font-size="26" fill="#000" textLength="183.5" lengthAdjust="spacing" xml:space="preserve">#16209966 sl</text>
</svg>
</body></html>
